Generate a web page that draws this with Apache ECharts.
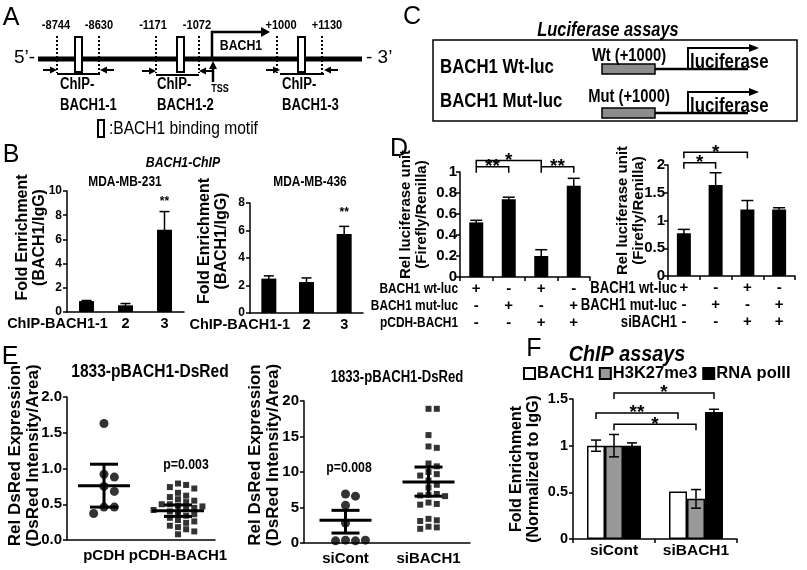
<!DOCTYPE html>
<html>
<head>
<meta charset="utf-8">
<title>BACH1 figure</title>
<script src="https://cdn.jsdelivr.net/npm/echarts@6.0.0/dist/echarts.min.js"></script>
<style>
  html, body { margin: 0; padding: 0; background: #fff; }
  #chart { width: 807px; height: 570px; }
</style>
</head>
<body>
<div id="chart"></div>
<script>
const FONT = "'Liberation Sans', Arial, sans-serif";

// B - BACH1 ChIP in two cell lines
const chipCats = ['ChIP-BACH1-1', '2', '3'];
const mb231Vals = [0.9, 0.55, 6.8];
const mb231Err = [0.05, 0.15, 1.5];
const mb436Vals = [2.5, 2.25, 5.75];
const mb436Err = [0.2, 0.3, 0.55];

// D - luciferase reporter (+/- rows under the bars)
const wtLuc = ['+', '-', '+', '-'];
const mutLuc = ['-', '+', '-', '+'];
const pcdhBach1 = ['-', '-', '+', '+'];
const siBach1 = ['-', '-', '+', '+'];
const lucOeVals = [0.52, 0.74, 0.2, 0.87];
const lucOeErr = [0.02, 0.02, 0.06, 0.07];
const lucKdVals = [0.77, 1.64, 1.2, 1.2];
const lucKdErr = [0.07, 0.22, 0.16, 0.03];

// E - DsRed reporter dots
const oeCats = ['pCDH', 'pCDH-BACH1'];
const pcdhPts = [1.63, 0.92, 0.88, 0.75, 0.68, 0.46, 0.46, 0.37];
const pcdhBachPts = [0.79, 0.77, 0.74, 0.72, 0.66, 0.62, 0.6, 0.57, 0.55, 0.53, 0.5, 0.5, 0.48, 0.47, 0.45,
  0.44, 0.42, 0.4, 0.38, 0.36, 0.34, 0.31, 0.28, 0.26, 0.24, 0.2, 0.18, 0.15, 0.12, 0.08];
const oeMean = [0.76, 0.41];
const oeLow = [0.46, 0.33];
const oeHigh = [1.06, 0.49];
const kdCats = ['siCont', 'siBACH1'];
const siContPts = [6.9, 6.6, 5.3, 2.8, 0.4, 0.3, 0.3, 0.4];
const siBachPts = [18.9, 18.9, 15.2, 13.6, 13.4, 11.2, 10.8, 10.0, 9.7, 9.5, 8.8, 8.2, 7.8, 6.9, 6.8,
  6.7, 6.6, 5.7, 5.5, 5.4, 3.4, 3.2, 3.1, 2.3, 2.2, 2.0];
const kdMean = [3.2, 8.6];
const kdLow = [1.4, 6.6];
const kdHigh = [4.6, 10.7];

// F - ChIP assays
const fCats = ['siCont', 'siBACH1'];
const fBach1 = [1.0, 0.51];
const fBach1Err = [0.06, 0];
const fH3k27 = [1.0, 0.43];
const fH3k27Err = [0.12, 0.1];
const fPol2 = [1.0, 1.36];
const fPol2Err = [0.03, 0.03];

// significance marks (a/b = category, ao/bo = bar within group)
const chip231Sig = [{a: 2, b: 2, y: 9.0, t: '**'}];
const chip436Sig = [{a: 2, b: 2, y: 7.2, t: '**'}];
const lucOeSig = [{a: 0, b: 2, y: 1.11, t: '*'}, {a: 0, b: 1, y: 1.05, t: '**'}, {a: 2, b: 3, y: 1.05, t: '**'}];
const lucKdSig = [{a: 0, b: 2, y: 2.23, t: '*'}, {a: 0, b: 1, y: 2.04, t: '*'}];
const fSig = [
  {a: 0, ao: 0, b: 1, bo: 1, y: 1.565, t: '*'},
  {a: 0, ao: -1, b: 1, bo: -1, y: 1.35, t: '**'},
  {a: 0, ao: 0, b: 1, bo: 0, y: 1.23, t: '*'}
];

const lucOeCats = wtLuc.map((s, i) => [s, mutLuc[i], pcdhBach1[i]].join('\n'));
const lucKdCats = wtLuc.map((s, i) => [s, mutLuc[i], siBach1[i]].join('\n'));

// simple beeswarm: put each dot in the nearest free column
function swarm(vals, center, tol, step) {
  const placed = [];
  return vals.map(v => {
    let k = 0;
    for (let j = 0; j < 40; j++) {
      k = j === 0 ? 0 : (j % 2 ? 1 : -1) * Math.ceil(j / 2);
      if (!placed.some(p => p[0] === k && Math.abs(p[1] - v) < tol)) break;
    }
    placed.push([k, v]);
    return [center + k * step, v];
  });
}

function xCat(grid, data, o) {
  return {
    type: 'category', gridIndex: grid, data: data,
    axisLine: {show: true, lineStyle: {color: '#000', width: 1.5}},
    axisTick: {show: !!o.ticks, length: 4, lineStyle: {color: '#000', width: 1.5}},
    axisLabel: Object.assign({interval: 0, color: '#000', fontFamily: FONT, fontWeight: 'bold',
      fontSize: o.size, margin: o.margin}, o.label || {}),
    splitLine: {show: false}
  };
}

function yVal(grid, max, step, name, o) {
  return {
    type: 'value', gridIndex: grid, min: 0, max: max, interval: step,
    name: name, nameLocation: 'middle', nameRotate: 90, nameGap: o.gap, nameMoveOverlap: false,
    nameTextStyle: {fontFamily: FONT, fontWeight: 'bold', fontSize: o.nameSize, lineHeight: o.nameSize + 1,
      color: '#000', padding: [0, 0, 0, o.shift || 0]},
    axisLine: {show: true, lineStyle: {color: '#000', width: 1.5}},
    axisTick: {show: true, length: 4, lineStyle: {color: '#000', width: 1.5}},
    axisLabel: {color: '#000', fontFamily: FONT, fontWeight: 'bold', fontSize: o.size, margin: o.margin || 5,
      formatter: o.fmt},
    splitLine: {show: false}
  };
}

function bars(xi, yi, vals, o) {
  return {
    type: 'bar', name: o.name, xAxisIndex: xi, yAxisIndex: yi, data: vals,
    barWidth: o.w, barGap: '0%',
    itemStyle: {color: o.color || '#000', borderColor: '#000', borderWidth: o.border || 0}
  };
}

function errBars(xi, yi, vals, errs, off, barW, cap) {
  return {
    type: 'custom', xAxisIndex: xi, yAxisIndex: yi, z: 5, silent: true,
    data: vals.map((v, i) => [i, v, errs[i]]),
    renderItem: (params, api) => {
      const e = api.value(2);
      if (!e) return null;
      const top = api.coord([api.value(0), api.value(1) + e]);
      const bot = api.coord([api.value(0), api.value(1) - e]);
      const x = top[0] + off * barW;
      const st = {stroke: '#000', lineWidth: 1.5};
      return {type: 'group', children: [
        {type: 'line', shape: {x1: x, y1: top[1], x2: x, y2: bot[1]}, style: st},
        {type: 'line', shape: {x1: x - cap, y1: top[1], x2: x + cap, y2: top[1]}, style: st},
        {type: 'line', shape: {x1: x - cap, y1: bot[1], x2: x + cap, y2: bot[1]}, style: st}
      ]};
    }
  };
}

function sigMarks(xi, yi, list, barW, size) {
  return {
    type: 'custom', xAxisIndex: xi, yAxisIndex: yi, z: 6, silent: true, clip: false,
    data: list.map(s => [s.a, s.y]),
    renderItem: (params, api) => {
      const s = list[params.dataIndex];
      const p1 = api.coord([s.a, s.y]);
      const p2 = api.coord([s.b, s.y]);
      const x1 = p1[0] + (s.ao || 0) * barW;
      const x2 = p2[0] + (s.bo || 0) * barW;
      const y = p1[1];
      const kids = [];
      if (x1 !== x2) {
        kids.push({type: 'polyline', shape: {points: [[x1, y + 6], [x1, y], [x2, y], [x2, y + 6]]},
          style: {stroke: '#000', lineWidth: 1.5, fill: null}});
      }
      kids.push({type: 'text', x: (x1 + x2) / 2, y: y - 4 + 0.22 * size, style: {
        text: s.t, fill: '#000', fontSize: size, fontWeight: 'bold', fontFamily: FONT,
        align: 'center', verticalAlign: 'middle'}});
      return {type: 'group', children: kids};
    }
  };
}

function meanSd(xi, yi, means, lows, highs) {
  return {
    type: 'custom', xAxisIndex: xi, yAxisIndex: yi, z: 10, silent: true,
    data: means.map((m, i) => [i + 1, m, lows[i], highs[i]]),
    renderItem: (params, api) => {
      const m = api.coord([api.value(0), api.value(1)]);
      const lo = api.coord([api.value(0), api.value(2)]);
      const hi = api.coord([api.value(0), api.value(3)]);
      const st = {stroke: '#000', lineWidth: 3};
      return {type: 'group', children: [
        {type: 'line', shape: {x1: m[0] - 26, y1: m[1], x2: m[0] + 26, y2: m[1]}, style: st},
        {type: 'line', shape: {x1: lo[0], y1: lo[1], x2: hi[0], y2: hi[1]}, style: st},
        {type: 'line', shape: {x1: lo[0] - 14, y1: lo[1], x2: lo[0] + 14, y2: lo[1]}, style: st},
        {type: 'line', shape: {x1: hi[0] - 14, y1: hi[1], x2: hi[0] + 14, y2: hi[1]}, style: st}
      ]};
    }
  };
}

function dots(xi, yi, pts, symbol, size) {
  return {type: 'scatter', xAxisIndex: xi, yAxisIndex: yi, data: pts, symbol: symbol,
    symbolSize: size, itemStyle: {color: '#000'}, silent: true, z: 4};
}

// ---------- drawn schematic + free text ----------
// the figure's lettering is condensed, so free text is squeezed horizontally (sx)
const G = [];
function T(x, y, text, size, o) {
  o = o || {};
  G.push({type: 'text', x: x, y: y, scaleX: o.sx || 0.82, silent: true, style: {
    text: text, fill: '#000', fontSize: size, fontWeight: o.w || 'bold',
    fontStyle: o.i ? 'italic' : 'normal', fontFamily: FONT,
    align: o.a || 'center', verticalAlign: 'middle'}});
}
function L(points, w, dash) {
  G.push({type: 'polyline', silent: true, shape: {points: points},
    style: {stroke: '#000', lineWidth: w || 2, fill: null, lineDash: dash || null}});
}
function R(x, y, w, h, fill, lw) {
  G.push({type: 'rect', silent: true, shape: {x: x, y: y, width: w, height: h},
    style: {fill: fill, stroke: '#000', lineWidth: lw || 1.5}});
}
function P(points) {
  G.push({type: 'polygon', silent: true, shape: {points: points}, style: {fill: '#000'}});
}
function letter(x, y, ch) { T(x, y, ch, 25, {w: 'normal', sx: 1}); }

// A: gene schematic
letter(11, 18, 'A');
L([[38, 59], [362, 59]], 5);
T(35, 58, '5\u2019-', 19, {w: 'normal', a: 'right', sx: 1});
T(366, 58, '- 3\u2019', 19, {w: 'normal', a: 'left', sx: 1});
[[56, '-8744'], [99, '-8630'], [153, '-1171'], [197, '-1072'], [281, '+1000'], [327, '+1130']]
  .forEach(d => T(d[0], 25, d[1], 13.5));
[57, 99, 156, 199, 277, 322].forEach(x => L([[x, 36], [x, 73]], 2, [2, 2]));
[75, 177, 298].forEach(x => R(x, 37, 7, 35, '#fff', 2));
L([[212, 59], [212, 32], [262, 32]], 2.5);
P([[270, 32], [261, 27], [261, 37]]);
T(241, 46, 'BACH1', 15);
L([[213, 82], [213, 67]], 2.5);
P([[213, 61], [209, 69], [217, 69]]);
T(220, 89, 'TSS', 11);
function primer(xl, xr, y) {
  L([[xl - 14, y], [xl - 6, y]], 2);
  P([[xl, y], [xl - 7, y - 3.5], [xl - 7, y + 3.5]]);
  L([[xr + 6, y], [xr + 14, y]], 2);
  P([[xr, y], [xr + 7, y - 3.5], [xr + 7, y + 3.5]]);
  L([[xl, y + 4], [xr, y + 4]], 2);
}
primer(57, 100, 70);
primer(156, 199, 71);
primer(280, 324, 70);
[[60, '1'], [157, '2'], [282, '3']].forEach(d => {
  T(d[0], 85, 'ChIP-', 16, {a: 'left'});
  T(d[0], 106, 'BACH1-' + d[1], 16, {a: 'left'});
});
R(98, 120, 6, 17, '#fff', 2);
T(109, 129, ':BACH1 binding motif', 19, {w: 'normal', a: 'left'});

// B: titles
letter(11, 155, 'B');
T(183, 163, 'BACH1-ChIP', 15, {i: true});
T(125, 182, 'MDA-MB-231', 14.5);
T(310, 182, 'MDA-MB-436', 14.5);

// C: luciferase constructs
letter(412, 17, 'C');
T(608, 30, 'Luciferase assays', 20, {i: true});
R(433, 40, 364, 81, null, 1.5);
[[69, 56, 67, 'Wt (+1000)', 'BACH1 Wt-luc'], [113, 97, 101, 'Mut (+1000)', 'BACH1 Mut-luc']].forEach(r => {
  const y = r[0];
  T(440, r[2], r[4], 20.5, {a: 'left'});
  R(602, y - 5, 53, 10, '#8c8c8c', 1.5);
  L([[655, y], [748, y]], 2.5);
  L([[688, y], [688, y - 21], [750, y - 21]], 2);
  P([[759, y - 21], [749, y - 25], [749, y - 17]]);
  T(629, r[1], r[3], 18);
  T(690, y - 7, 'luciferase', 20.5, {a: 'left'});
});

// D: table row names
letter(399, 149, 'D');
['BACH1 wt-luc', 'BACH1 mut-luc', 'pCDH-BACH1'].forEach((t, i) => T(458, 289 + i * 17, t, 14.5, {a: 'right'}));
['BACH1 wt-luc', 'BACH1 mut-luc', 'siBACH1'].forEach((t, i) => T(677, 289 + i * 17, t, 16, {a: 'right'}));

// E: titles and p values
letter(10, 357, 'E');
T(150, 372, '1833-pBACH1-DsRed', 19);
T(397, 378, '1833-pBACH1-DsRed', 16);
T(186, 465, 'p=0.003', 15);
T(349, 468, 'p=0.008', 15);

// F: title
letter(534, 349, 'F');
T(627, 355, 'ChIP assays', 22, {i: true, sx: 0.9});

const chipLabel = {
  formatter: v => v.indexOf('ChIP') === 0 ? '{s|' + v + '}' : v,
  rich: {s: {padding: [0, 58, 0, 0], fontFamily: FONT, fontWeight: 'bold', fontSize: 14.5, color: '#000'}}
};

const chart = echarts.init(document.getElementById('chart'));
chart.setOption({
  animation: false,
  backgroundColor: '#fff',
  textStyle: {fontFamily: FONT},
  grid: [
    {left: 67, top: 191, width: 117, height: 121},
    {left: 250, top: 203, width: 113, height: 110},
    {left: 460, top: 172, width: 130, height: 105},
    {left: 668, top: 165, width: 127, height: 111},
    {left: 67, top: 397, width: 148, height: 143},
    {left: 304, top: 401, width: 166, height: 142},
    {left: 573, top: 399, width: 164, height: 140}
  ].map(g => Object.assign({containLabel: false, outerBoundsMode: 'none'}, g)),
  legend: {
    left: 523, top: 365, padding: 0, itemGap: 5, itemWidth: 11, itemHeight: 11,
    icon: 'rect', data: ['BACH1', 'H3K27me3', 'RNA polII'],
    textStyle: {fontFamily: FONT, fontWeight: 'bold', fontSize: 16.5, color: '#000', padding: [0, 0, 0, -3]}
  },
  xAxis: [
    xCat(0, chipCats, {size: 14.5, margin: 4, label: chipLabel}),
    xCat(1, chipCats, {size: 14.5, margin: 4, label: chipLabel}),
    xCat(2, lucOeCats, {size: 15, margin: 3, ticks: true, label: {lineHeight: 17}}),
    xCat(3, lucKdCats, {size: 15, margin: 3, ticks: true, label: {lineHeight: 17}}),
    xCat(4, oeCats, {size: 15, margin: 8}),
    {type: 'value', gridIndex: 4, min: 0.5, max: 2.5, show: false},
    xCat(5, kdCats, {size: 15, margin: 8}),
    {type: 'value', gridIndex: 5, min: 0.5, max: 2.5, show: false},
    xCat(6, fCats, {size: 15.5, margin: 4, ticks: true})
  ],
  yAxis: [
    yVal(0, 10, 2, 'Fold Enrichment\n(BACH1/IgG)', {size: 12, gap: 19, nameSize: 16, shift: 28}),
    yVal(1, 8, 2, 'Fold Enrichment\n(BACH1/IgG)', {size: 12, gap: 20, nameSize: 16, shift: 34}),
    yVal(2, 1, 0.2, 'Rel luciferase unit\n(Firefly/Renilla)', {size: 15, gap: 30, nameSize: 15, shift: 20, margin: 3}),
    yVal(3, 2, 0.5, 'Rel luciferase unit\n(Firefly/Renilla)', {size: 15, gap: 21, nameSize: 15, shift: 20, margin: 3}),
    yVal(4, 2, 0.5, 'Rel DsRed Expression\n(DsRed Intensity/Area)', {size: 15, gap: 25, nameSize: 17, shift: 26,
      fmt: v => v.toFixed(1)}),
    yVal(5, 20, 5, 'Rel DsRed Expression\n(DsRed Intensity/Area)', {size: 15, gap: 22, nameSize: 17, shift: 34}),
    yVal(6, 1.5, 0.5, 'Fold Enrichment\n(Normalized to IgG)', {size: 14.5, gap: 31, nameSize: 16})
  ],
  series: [
    // B
    bars(0, 0, mb231Vals, {w: 15}),
    errBars(0, 0, mb231Vals, mb231Err, 0, 0, 5),
    sigMarks(0, 0, chip231Sig, 0, 12),
    bars(1, 1, mb436Vals, {w: 15}),
    errBars(1, 1, mb436Vals, mb436Err, 0, 0, 5),
    sigMarks(1, 1, chip436Sig, 0, 12),
    // D
    bars(2, 2, lucOeVals, {w: 14}),
    errBars(2, 2, lucOeVals, lucOeErr, 0, 0, 6),
    sigMarks(2, 2, lucOeSig, 0, 19),
    bars(3, 3, lucKdVals, {w: 14}),
    errBars(3, 3, lucKdVals, lucKdErr, 0, 0, 6),
    sigMarks(3, 3, lucKdSig, 0, 19),
    // E
    dots(5, 4, swarm(pcdhPts, 1, 0.13, 0.14), 'circle', 9),
    dots(5, 4, swarm(pcdhBachPts, 2, 0.085, 0.11), 'rect', 6),
    meanSd(5, 4, oeMean, oeLow, oeHigh),
    dots(7, 5, swarm(siContPts, 1, 1.2, 0.12), 'circle', 9),
    dots(7, 5, swarm(siBachPts, 2, 0.9, 0.1), 'rect', 6),
    meanSd(7, 5, kdMean, kdLow, kdHigh),
    // F
    bars(8, 6, fBach1, {w: 18, name: 'BACH1', color: '#fff', border: 1.5}),
    bars(8, 6, fH3k27, {w: 18, name: 'H3K27me3', color: '#999', border: 1.5}),
    bars(8, 6, fPol2, {w: 18, name: 'RNA polII', color: '#000', border: 1.5}),
    errBars(8, 6, fBach1, fBach1Err, -1, 18, 5),
    errBars(8, 6, fH3k27, fH3k27Err, 0, 18, 5),
    errBars(8, 6, fPol2, fPol2Err, 1, 18, 5),
    sigMarks(8, 6, fSig, 18, 19)
  ],
  graphic: G
});
</script>
</body>
</html>
